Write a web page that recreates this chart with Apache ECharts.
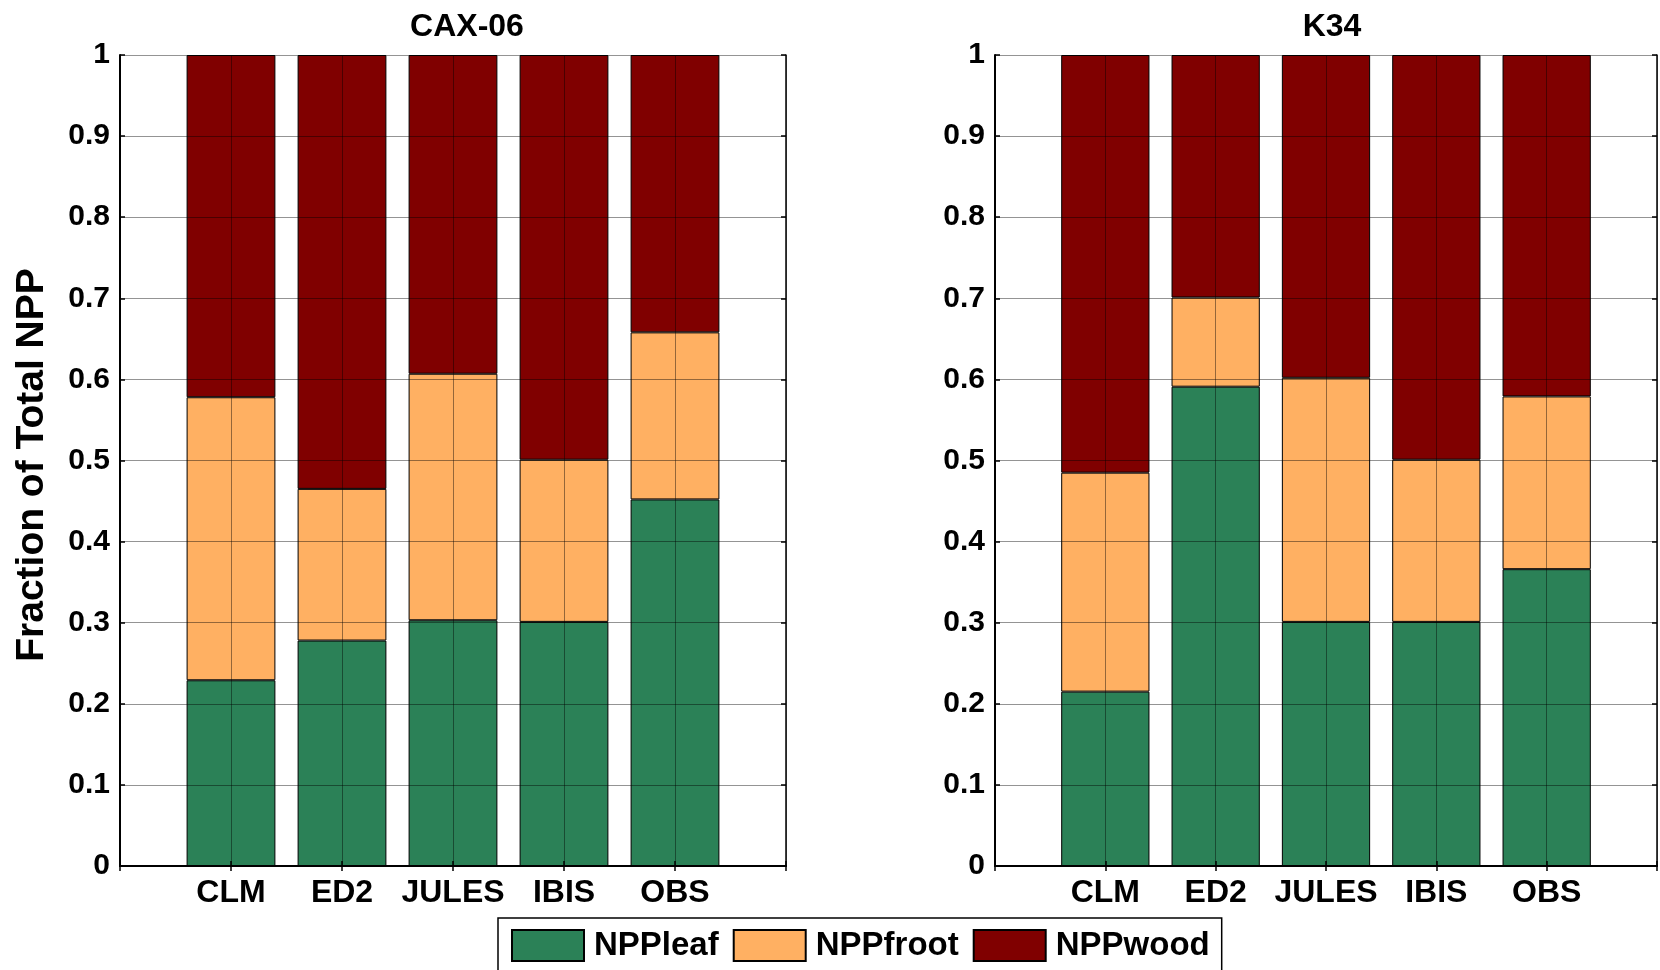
<!DOCTYPE html>
<html>
<head>
<meta charset="utf-8">
<script src="https://cdn.jsdelivr.net/npm/echarts@6/dist/echarts.min.js"></script>
<style>
  html, body { margin: 0; padding: 0; background: #ffffff; }
  #chart { width: 1660px; height: 970px; }
</style>
</head>
<body>
<div id="chart"></div>
<script>
// Model names along the x axis
const models = ['CLM', 'ED2', 'JULES', 'IBIS', 'OBS'];

// CAX-06 site: fraction of total NPP per pool
const caxLeaf  = [0.229, 0.278, 0.303, 0.301, 0.452];
const caxFroot = [0.349, 0.187, 0.304, 0.200, 0.206];
const caxWood  = [0.422, 0.535, 0.393, 0.499, 0.342];

// K34 site: fraction of total NPP per pool
const k34Leaf  = [0.215, 0.591, 0.301, 0.301, 0.366];
const k34Froot = [0.270, 0.110, 0.301, 0.200, 0.213];
const k34Wood  = [0.515, 0.299, 0.398, 0.499, 0.421];

const panelTitles = ['CAX-06', 'K34'];
const poolNames = ['NPPleaf', 'NPPfroot', 'NPPwood'];
const poolColors = ['#2B8157', '#FFB062', '#800000'];

const FONT = '"Liberation Sans", Arial, Helvetica, sans-serif';
const GRID_LINE = 'rgba(0,0,0,0.42)';

// Empty slots at both ends give the half-open margin on each side of the bars
const slots = [''].concat(models, ['']);
const pad = arr => ['-'].concat(arr, ['-']);

const panels = [
  { left: 120, data: [caxLeaf, caxFroot, caxWood] },
  { left: 995, data: [k34Leaf, k34Froot, k34Wood] }
];
const PLOT_W = 666, PLOT_TOP = 55, PLOT_H = 811;

const grid = [], xAxis = [], yAxis = [], series = [];
panels.forEach((p, i) => {
  grid.push({ left: p.left, top: PLOT_TOP, width: PLOT_W, height: PLOT_H, containLabel: false });
  // bottom category axis with labels and vertical grid lines
  xAxis.push({
    type: 'category', gridIndex: i, data: slots, boundaryGap: false, position: 'bottom', z: 5,
    axisLine: { lineStyle: { color: '#000', width: 2 } },
    axisTick: { inside: true, length: 5, interval: 0, lineStyle: { color: '#000', width: 1.5 } },
    axisLabel: { interval: 0, margin: 11, color: '#000', fontFamily: FONT, fontWeight: 'bold', fontSize: 32 },
    splitLine: { show: true, interval: 0, lineStyle: { color: GRID_LINE, width: 1 } }
  });
  // top box edge with inward ticks
  xAxis.push({
    type: 'category', gridIndex: i, data: slots, boundaryGap: false, position: 'top', z: 5,
    axisLine: { lineStyle: { color: '#000', width: 2 } },
    axisTick: { inside: true, length: 5, interval: 0, lineStyle: { color: '#000', width: 1.5 } },
    axisLabel: { show: false }, splitLine: { show: false }
  });
  // left value axis with labels and horizontal grid lines
  yAxis.push({
    type: 'value', gridIndex: i, min: 0, max: 1, interval: 0.1, position: 'left', z: 5,
    axisLine: { show: true, lineStyle: { color: '#000', width: 2 } },
    axisTick: { show: true, inside: true, length: 5, lineStyle: { color: '#000', width: 1.5 } },
    axisLabel: { margin: 10, color: '#000', fontFamily: FONT, fontWeight: 'bold', fontSize: 30 },
    splitLine: { show: true, lineStyle: { color: GRID_LINE, width: 1 } }
  });
  // right box edge with inward ticks
  yAxis.push({
    type: 'value', gridIndex: i, min: 0, max: 1, interval: 0.1, position: 'right', z: 5,
    axisLine: { show: true, lineStyle: { color: '#000', width: 1.5 } },
    axisTick: { show: true, inside: true, length: 5, lineStyle: { color: '#000', width: 1.5 } },
    axisLabel: { show: false }, splitLine: { show: false }
  });
  p.data.forEach((vals, k) => {
    series.push({
      name: poolNames[k], type: 'bar', stack: 'site' + i,
      xAxisIndex: i * 2, yAxisIndex: i * 2,
      barWidth: '80%',
      data: pad(vals),
      itemStyle: { color: poolColors[k], borderColor: '#000', borderWidth: 1 },
      emphasis: { disabled: true },
      animation: false
    });
  });
});

const option = {
  backgroundColor: '#ffffff',
  animation: false,
  grid, xAxis, yAxis, series,
  legend: {
    data: poolNames.map(n => ({ name: n, icon: 'rect' })),
    left: 498, top: 918,
    orient: 'horizontal',
    itemWidth: 72, itemHeight: 31, itemGap: 14,
    padding: [11, 12, 40, 13],
    borderColor: '#000', borderWidth: 1.5,
    backgroundColor: '#fff',
    selectedMode: false,
    textStyle: { color: '#000', fontFamily: FONT, fontWeight: 'bold', fontSize: 33, padding: [3, 0, 0, 5] }
  },
  graphic: [
    { type: 'text', x: 467, y: 27, z: 10,
      style: { text: panelTitles[0], align: 'center', verticalAlign: 'middle', fill: '#000',
               font: 'bold 32px ' + FONT } },
    { type: 'text', x: 1332, y: 27, z: 10,
      style: { text: panelTitles[1], align: 'center', verticalAlign: 'middle', fill: '#000',
               font: 'bold 32px ' + FONT } },
    { type: 'text', x: 32, y: 465, rotation: Math.PI / 2, z: 10,
      style: { text: 'Fraction of Total NPP', align: 'center', verticalAlign: 'middle', fill: '#000',
               font: 'bold 39px ' + FONT } }
  ]
};

const chart = echarts.init(document.getElementById('chart'), null, { renderer: 'canvas' });
chart.setOption(option);
</script>
</body>
</html>
